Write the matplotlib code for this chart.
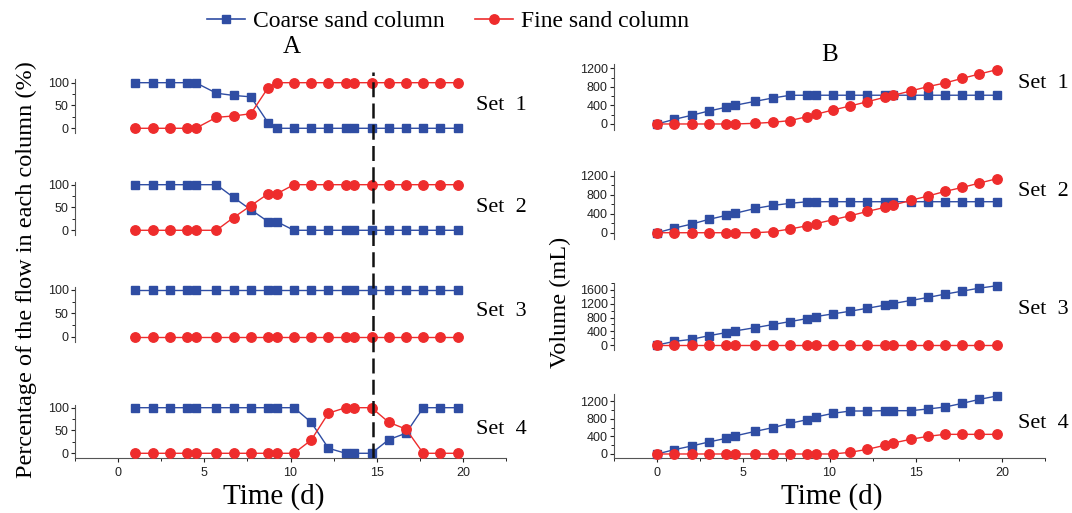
import matplotlib.pyplot as plt
from matplotlib.ticker import MultipleLocator
from matplotlib.lines import Line2D

plt.rcParams['font.family'] = ['Liberation Sans', 'DejaVu Sans']

# ---- data -----------------------------------------------------------------
time_b = [0, 1, 2, 3, 4, 4.5, 5.7, 6.7, 7.7, 8.7, 9.2, 10.2, 11.2, 12.2,
          13.2, 13.7, 14.7, 15.7, 16.7, 17.7, 18.7, 19.7]
time_a = time_b[1:]

# panel A: percentage of flow (%)
pct_coarse = [
    [100, 100, 100, 100, 100, 77, 72, 69, 12, 0, 0, 0, 0, 0, 0, 0, 0, 0, 0, 0, 0],
    [100, 100, 100, 100, 100, 100, 72, 45, 19, 19, 0, 0, 0, 0, 0, 0, 0, 0, 0, 0, 0],
    [100] * 21,
    [100, 100, 100, 100, 100, 100, 100, 100, 100, 100, 100, 68, 11, 0, 0, 0, 30, 44, 100, 100, 100],
]
pct_fine = [
    [0, 0, 0, 0, 0, 24, 27, 32, 89, 100, 100, 100, 100, 100, 100, 100, 100, 100, 100, 100, 100],
    [0, 0, 0, 0, 0, 0, 28, 54, 80, 80, 100, 100, 100, 100, 100, 100, 100, 100, 100, 100, 100],
    [0] * 21,
    [0, 0, 0, 0, 0, 0, 0, 0, 0, 0, 0, 29, 88, 100, 100, 100, 68, 53, 0, 0, 0],
]

# panel B: cumulative volume (mL)
vol_coarse = [
    [0, 100, 187, 280, 360, 402, 489, 560, 618, 620, 620, 620, 620, 620, 620, 620, 620, 620, 620, 620, 620, 620],
    [0, 98, 182, 281, 365, 407, 512, 575, 618, 653, 653, 653, 653, 653, 653, 653, 653, 653, 653, 653, 653, 653],
    [0, 107, 165, 272, 360, 409, 506, 594, 681, 769, 827, 905, 983, 1070, 1158, 1207, 1294, 1382, 1479, 1567, 1654, 1723],
    [0, 98, 181, 272, 355, 408, 513, 596, 694, 777, 838, 921, 974, 974, 981, 981, 981, 1019, 1064, 1147, 1238, 1313],
]
vol_fine = [
    [0, 0, 0, 0, 0, 0, 14, 36, 72, 158, 208, 302, 388, 481, 575, 618, 711, 805, 884, 984, 1078, 1171],
    [0, 0, 0, 0, 0, 0, 0, 21, 77, 147, 189, 274, 358, 449, 533, 582, 681, 772, 870, 954, 1046, 1137],
    [0] * 22,
    [0, 0, 0, 0, 0, 0, 0, 0, 0, 0, 0, 0, 38, 106, 196, 249, 332, 400, 445, 445, 445, 445],
]

set_labels = ['Set  1', 'Set  2', 'Set  3', 'Set  4']
switch_day = 14.8

# ---- layout (pixels in a 1072x513 canvas) --------------------------------
W, H = 1072, 513
BLUE = '#2f4da3'
RED = '#ee2c2c'


def box(left, right, top, bottom):
    return [left / W, 1 - bottom / H, (right - left) / W, (bottom - top) / H]


a_boxes = [(79.5, 133.3), (181.5, 235.3), (286.7, 341.8), (404.5, 458.3)]
b_boxes = [(63.7, 130.0), (171.0, 238.9), (283.1, 350.2), (394.4, 458.4)]
b_ylims = [(-130, 1300), (-130, 1300), (-150, 1800), (-100, 1350)]
b_ymax = [1200, 1200, 1600, 1200]
a_label_y = [105, 208, 312, 430]
b_label_y = [84, 192, 310, 424]

fig = plt.figure(figsize=(W / 100, H / 100), dpi=100)


def style(ax, last):
    for s in ['top', 'right']:
        ax.spines[s].set_visible(False)
    ax.spines['left'].set_color('#555555')
    ax.spines['bottom'].set_color('#555555')
    ax.tick_params(axis='both', labelsize=9, length=3, width=0.8,
                   colors='#222222', pad=1.5)
    ax.tick_params(which='minor', length=2, width=0.6)
    ax.set_xlim(-2.5, 22.5)
    if last:
        ax.set_xticks([0, 5, 10, 15, 20])
        ax.xaxis.set_minor_locator(MultipleLocator(2.5))
        ax.tick_params(axis='x', pad=3)
    else:
        ax.spines['bottom'].set_visible(False)
        ax.set_xticks([])
        ax.xaxis.set_minor_locator(plt.NullLocator())
    ax.patch.set_visible(False)


def draw(ax, t, coarse, fine):
    ax.plot(t, coarse, color=BLUE, lw=1.0, marker='s', ms=5.8,
            mfc=BLUE, mec=BLUE, clip_on=False, zorder=3)
    ax.plot(t, fine, color=RED, lw=1.0, marker='o', ms=6.8,
            mfc=RED, mec=RED, clip_on=False, zorder=4)


for i in range(4):
    top, bottom = a_boxes[i]
    ax = fig.add_axes(box(75, 506, top, bottom))
    draw(ax, time_a, pct_coarse[i], pct_fine[i])
    ax.set_ylim(-11, 107)
    ax.set_yticks([0, 50, 100])
    ax.yaxis.set_minor_locator(MultipleLocator(25))
    style(ax, i == 3)
    fig.text(476 / W, 1 - a_label_y[i] / H, set_labels[i], family='Liberation Serif',
             fontsize=16, va='center', ha='left')

    top, bottom = b_boxes[i]
    ax = fig.add_axes(box(614, 1045, top, bottom))
    draw(ax, time_b, vol_coarse[i], vol_fine[i])
    ax.set_ylim(*b_ylims[i])
    ax.set_yticks(list(range(0, b_ymax[i] + 1, 400)))
    ax.yaxis.set_minor_locator(MultipleLocator(200))
    style(ax, i == 3)
    fig.text(1018 / W, 1 - b_label_y[i] / H, set_labels[i], family='Liberation Serif',
             fontsize=16, va='center', ha='left')

# dashed vertical line running through all of panel A
ov = fig.add_axes(box(75, 506, 71.7, 458.3))
ov.set_xlim(-2.5, 22.5)
ov.set_ylim(0, 1)
ov.axis('off')
ov.axvline(switch_day, color='#111111', lw=1.8, ls=(0, (6, 2.5)), zorder=5)

serif = 'Liberation Serif'
fig.text(292 / W, 1 - 47 / H, 'A', family=serif, fontsize=18, ha='center', va='center')
fig.text(830 / W, 1 - 55 / H, 'B', family=serif, fontsize=18, ha='center', va='center')
fig.text(274 / W, 1 - 497 / H, 'Time (d)', family=serif, fontsize=21, ha='center', va='center')
fig.text(832 / W, 1 - 497 / H, 'Time (d)', family=serif, fontsize=21, ha='center', va='center')
fig.text(26 / W, 1 - 270 / H, 'Percentage of the flow in each column (%)', family=serif,
         fontsize=17.5, rotation=90, ha='center', va='center')
fig.text(560 / W, 1 - 302 / H, 'Volume (mL)', family=serif, fontsize=17.5,
         rotation=90, ha='center', va='center')

handles = [
    Line2D([], [], color=BLUE, lw=1.2, marker='s', ms=5.8),
    Line2D([], [], color=RED, lw=1.2, marker='o', ms=6.8),
]
fig.legend(handles, ['Coarse sand column', 'Fine sand column'], loc='center left',
           bbox_to_anchor=(207 / W, 1 - 21 / H), ncol=2, frameon=False,
           prop={'family': serif, 'size': 17}, handlelength=1.6,
           handletextpad=0.35, columnspacing=1.3, borderpad=0, borderaxespad=0)

fig.savefig('out.png', dpi=100)
